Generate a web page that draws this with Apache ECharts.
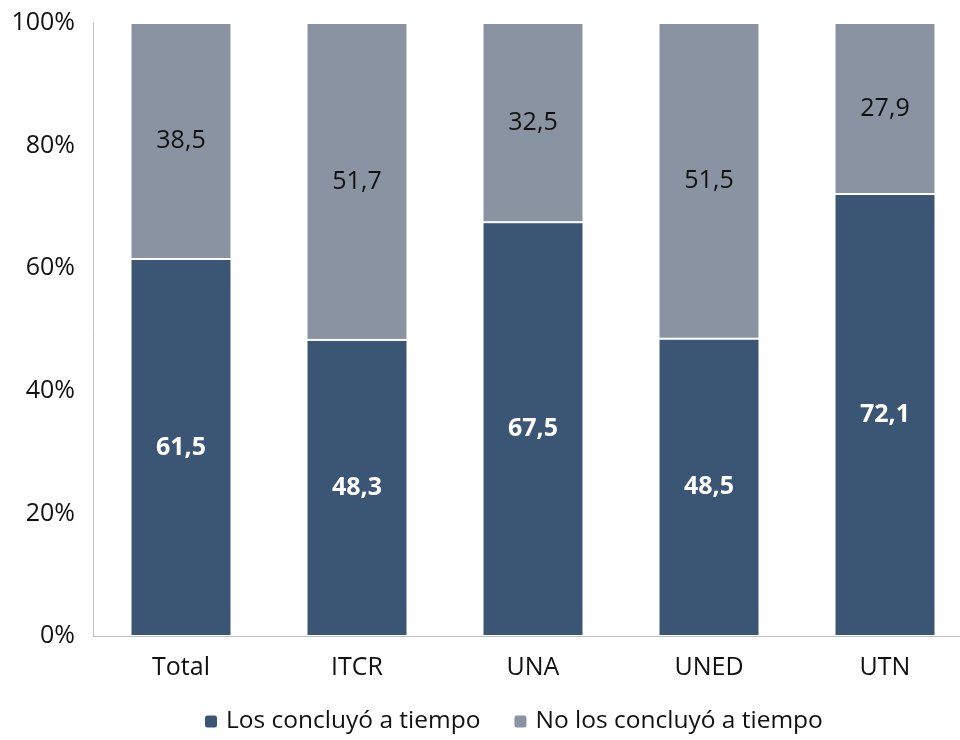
<!DOCTYPE html>
<html>
<head>
<meta charset="utf-8">
<script src="https://cdn.jsdelivr.net/npm/echarts@6/dist/echarts.min.js"></script>
<style>
  html, body { margin: 0; padding: 0; background: #fff; }
  #chart { width: 960px; height: 740px; }
</style>
</head>
<body>
<div id="chart"></div>
<script>
const categories = ['Total', 'ITCR', 'UNA', 'UNED', 'UTN']
const concluyo = [61.5, 48.3, 67.5, 48.5, 72.1]
const noConcluyo = [38.5, 51.7, 32.5, 51.5, 27.9]
const yTicks = [0, 20, 40, 60, 80, 100]

const font = '"Open Sans", Lato, sans-serif'
const fmt = p => p.value.toFixed(1).replace('.', ',')

const chart = echarts.init(document.getElementById('chart'))
chart.setOption({
  animation: false,
  textStyle: { fontFamily: font },
  grid: { left: 93, top: 23, bottom: 104, right: -13, outerBoundsMode: 'none' },
  legend: {
    bottom: 1,
    left: 198,
    itemWidth: 14,
    itemHeight: 14,
    itemGap: 32,
    textStyle: { fontSize: 24.5, color: '#111', fontFamily: font, padding: [0, 0, 0, 3] },
    data: ['Los concluyó a tiempo', 'No los concluyó a tiempo']
  },
  xAxis: {
    type: 'category',
    data: categories,
    axisTick: { show: false },
    axisLine: { lineStyle: { color: '#bfbfbf', width: 1 } },
    axisLabel: { fontSize: 25, color: '#111', margin: 19, fontFamily: font }
  },
  yAxis: {
    type: 'value',
    min: yTicks[0],
    max: yTicks[yTicks.length - 1],
    interval: 20,
    splitLine: { show: false },
    axisLine: { show: true, lineStyle: { color: '#bfbfbf', width: 1 } },
    axisTick: { show: false },
    axisLabel: { fontSize: 25, color: '#111', margin: 18, formatter: '{value}%', fontFamily: font }
  },
  series: [
    {
      name: 'Los concluyó a tiempo',
      type: 'bar',
      stack: 'total',
      barWidth: 101,
      data: concluyo,
      itemStyle: { color: '#3a5674', borderColor: '#fff', borderWidth: 1 },
      label: { show: true, position: 'inside', color: '#fff', fontWeight: 'bold', fontSize: 25, formatter: fmt, fontFamily: font }
    },
    {
      name: 'No los concluyó a tiempo',
      type: 'bar',
      stack: 'total',
      barWidth: 101,
      data: noConcluyo,
      itemStyle: { color: '#8a93a2', borderColor: '#fff', borderWidth: 1 },
      label: { show: true, position: 'inside', color: '#111', fontSize: 25, formatter: fmt, fontFamily: font }
    }
  ]
})
</script>
</body>
</html>
